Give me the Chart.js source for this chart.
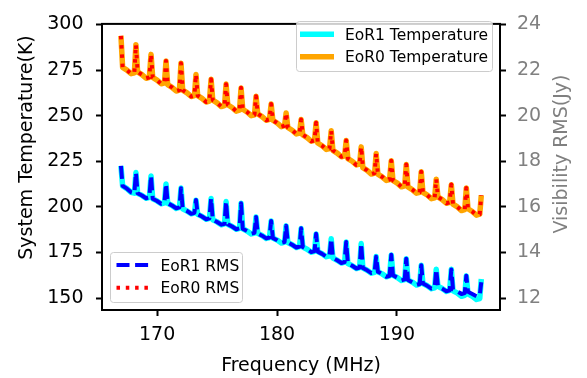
<!DOCTYPE html>
<html lang="en">
<head>
  <meta charset="utf-8">
  <title>System temperature and visibility RMS</title>
  <script src="https://cdn.jsdelivr.net/npm/chart.js"></script>
  <style>
    html, body { margin: 0; padding: 0; background: #fff; }
    #wrap { width: 587px; height: 378px; }
  </style>
</head>
<body>
  <div id="wrap"><canvas id="myChart" width="587" height="378"></canvas></div>

<script>
  // start of each coarse channel (MHz), every coarse channel begins with a spike
  const chanStartMHz = [166.98, 168.23, 169.49, 170.74, 171.99, 173.24, 174.50, 175.75,
    177.00, 178.25, 179.51, 180.76, 182.01, 183.26, 184.52, 185.77, 187.02, 188.27,
    189.53, 190.78, 192.03, 193.28, 194.54, 195.79, 197.04];
  // fine channel offsets inside a coarse channel (MHz)
  const chanOffsetMHz = [0, 0.14, 0.5, 0.85, 1.12];

  const freqTicks = [170, 180, 190];
  const tempTicks = [150, 175, 200, 225, 250, 275, 300];
  const rmsTicks = [12, 14, 16, 18, 20, 22, 24];

  // System temperature (K), one row per coarse channel
  const eor1Temp = [
    [222.5, 211.5, 210.0, 208.0, 207.5],
    [218.8, 207.5, 206.3, 204.7, 205.2],
    [217.0, 204.5, 203.3, 201.7, 202.2],
    [212.6, 202.0, 200.8, 199.2, 199.7],
    [210.3, 199.0, 197.8, 196.2, 196.7],
    [203.7, 196.0, 194.8, 193.2, 193.7],
    [204.6, 193.0, 191.8, 190.2, 190.7],
    [202.9, 190.5, 189.3, 187.7, 188.2],
    [202.0, 188.0, 186.8, 185.2, 185.7],
    [194.5, 185.5, 184.3, 182.7, 183.2],
    [192.3, 183.0, 181.8, 180.2, 180.7],
    [189.6, 180.5, 179.3, 177.7, 178.2],
    [188.2, 178.0, 176.8, 175.2, 175.7],
    [185.2, 175.5, 174.3, 172.7, 173.2],
    [182.5, 172.0, 170.8, 169.2, 169.7],
    [180.8, 169.0, 167.8, 166.2, 166.7],
    [179.9, 166.5, 165.3, 163.7, 164.2],
    [172.8, 164.5, 163.3, 161.7, 162.2],
    [173.7, 162.5, 161.3, 159.7, 160.2],
    [171.6, 160.0, 158.8, 157.2, 157.7],
    [168.0, 158.0, 156.8, 155.2, 155.7],
    [165.8, 156.5, 155.3, 153.7, 154.2],
    [165.8, 154.0, 152.8, 151.0, 151.5],
    [162.2, 152.3, 151.0, 149.3, 149.8],
    [160.5]
  ];
  const eor0Temp = [
    [293.8, 276.5, 275.0, 273.0, 273.5],
    [288.9, 274.0, 272.5, 270.5, 271.0],
    [283.6, 271.0, 269.5, 267.5, 268.0],
    [280.0, 267.0, 265.5, 263.5, 264.0],
    [278.8, 264.0, 262.5, 260.5, 261.0],
    [272.6, 261.0, 259.5, 257.5, 258.0],
    [270.0, 258.5, 257.0, 255.0, 255.5],
    [267.3, 256.0, 254.5, 252.5, 253.0],
    [265.2, 253.5, 252.0, 250.0, 250.5],
    [260.6, 251.0, 249.5, 247.5, 248.0],
    [256.4, 247.5, 246.0, 244.0, 244.5],
    [251.5, 243.5, 242.0, 240.0, 240.5],
    [247.9, 239.5, 238.0, 236.0, 236.5],
    [246.1, 235.0, 233.5, 231.5, 232.0],
    [241.7, 231.0, 229.5, 227.5, 228.0],
    [236.4, 226.5, 225.0, 223.0, 223.5],
    [232.9, 221.5, 220.0, 218.0, 218.5],
    [229.3, 218.0, 216.5, 214.5, 215.0],
    [225.3, 214.5, 213.0, 211.0, 211.5],
    [223.2, 211.0, 209.5, 207.5, 208.0],
    [219.3, 208.0, 206.5, 204.5, 205.0],
    [215.2, 205.5, 204.0, 202.0, 202.5],
    [212.2, 201.5, 200.0, 198.0, 198.5],
    [210.4, 199.0, 197.5, 195.5, 196.0],
    [206.4]
  ];

  // Visibility RMS (Jy), right axis
  const eor1Rms = [
    [17.80, 16.92, 16.80, 16.64, 16.60],
    [17.50, 16.60, 16.50, 16.38, 16.42],
    [17.36, 16.36, 16.26, 16.14, 16.18],
    [17.01, 16.16, 16.06, 15.94, 15.98],
    [16.82, 15.92, 15.82, 15.70, 15.74],
    [16.30, 15.68, 15.58, 15.46, 15.50],
    [16.37, 15.44, 15.34, 15.22, 15.26],
    [16.23, 15.24, 15.14, 15.02, 15.06],
    [16.16, 15.04, 14.94, 14.82, 14.86],
    [15.56, 14.84, 14.74, 14.62, 14.66],
    [15.38, 14.64, 14.54, 14.42, 14.46],
    [15.17, 14.44, 14.34, 14.22, 14.26],
    [15.06, 14.24, 14.14, 14.02, 14.06],
    [14.82, 14.04, 13.94, 13.82, 13.86],
    [14.60, 13.76, 13.66, 13.54, 13.58],
    [14.46, 13.52, 13.42, 13.30, 13.34],
    [14.39, 13.32, 13.22, 13.10, 13.14],
    [13.82, 13.16, 13.06, 12.94, 12.98],
    [13.90, 13.00, 12.90, 12.78, 12.82],
    [13.73, 12.80, 12.70, 12.58, 12.62],
    [13.44, 12.64, 12.54, 12.42, 12.46],
    [13.26, 12.52, 12.42, 12.30, 12.34],
    [13.26, 12.38, 12.30, 12.18, 12.22],
    [12.98, 12.28, 12.18, 12.08, 12.12],
    [12.70]
  ];
  const eor0Rms = [
    [23.50, 22.12, 22.00, 21.84, 21.88],
    [23.11, 21.92, 21.80, 21.64, 21.68],
    [22.69, 21.68, 21.56, 21.40, 21.44],
    [22.40, 21.36, 21.24, 21.08, 21.12],
    [22.30, 21.12, 21.00, 20.84, 20.88],
    [21.81, 20.88, 20.76, 20.60, 20.64],
    [21.60, 20.68, 20.56, 20.40, 20.44],
    [21.38, 20.48, 20.36, 20.20, 20.24],
    [21.22, 20.28, 20.16, 20.00, 20.04],
    [20.85, 20.08, 19.96, 19.80, 19.84],
    [20.51, 19.80, 19.68, 19.52, 19.56],
    [20.12, 19.48, 19.36, 19.20, 19.24],
    [19.83, 19.16, 19.04, 18.88, 18.92],
    [19.69, 18.80, 18.68, 18.52, 18.56],
    [19.34, 18.48, 18.36, 18.20, 18.24],
    [18.91, 18.12, 18.00, 17.84, 17.88],
    [18.63, 17.72, 17.60, 17.44, 17.48],
    [18.34, 17.44, 17.32, 17.16, 17.20],
    [18.02, 17.16, 17.04, 16.88, 16.92],
    [17.86, 16.88, 16.76, 16.60, 16.64],
    [17.54, 16.64, 16.52, 16.36, 16.40],
    [17.22, 16.44, 16.32, 16.16, 16.20],
    [16.98, 16.12, 16.00, 15.84, 15.88],
    [16.83, 15.92, 15.80, 15.64, 15.68],
    [16.51]
  ];

  var FONT = "'DejaVu Sans', sans-serif";
  Chart.defaults.font.family = FONT;

  function toPoints(series) {
    var pts = [];
    series.forEach(function (chan, c) {
      chan.forEach(function (v, i) {
        pts.push({ x: chanStartMHz[c] + chanOffsetMHz[i], y: v });
      });
    });
    return pts;
  }

  function fixedTicks(list) {
    return function (scale) {
      scale.ticks = list.map(function (v) { return { value: v }; });
    };
  }

  // legend boxes, like the two matplotlib legends
  var legendTop = {
    box: [296.5, 21.5, 196, 50], lineX: [300, 334], textX: 345, rowY: [34.3, 56.7],
    items: [
      { label: 'EoR1 Temperature', color: '#00ffff', width: 5.5, dash: [] },
      { label: 'EoR0 Temperature', color: '#ffa500', width: 5.5, dash: [] }
    ]
  };
  var legendBottom = {
    box: [110.5, 252.5, 132, 50], lineX: [116.5, 150.5], textX: 160.5, rowY: [265, 287.7],
    items: [
      { label: 'EoR1 RMS', color: '#0000ff', width: 4, dash: [13, 5.6] },
      { label: 'EoR0 RMS', color: '#ff0000', width: 4, dash: [3.5, 5.8] }
    ]
  };

  function drawLegend(ctx, lg) {
    var b = lg.box;
    ctx.save();
    ctx.beginPath();
    ctx.roundRect(b[0], b[1], b[2], b[3], 3);
    ctx.fillStyle = 'rgba(255,255,255,0.8)';
    ctx.fill();
    ctx.strokeStyle = '#cccccc';
    ctx.lineWidth = 1;
    ctx.stroke();
    lg.items.forEach(function (it, i) {
      var y = lg.rowY[i];
      ctx.beginPath();
      ctx.setLineDash(it.dash);
      ctx.lineCap = 'butt';
      ctx.strokeStyle = it.color;
      ctx.lineWidth = it.width;
      ctx.moveTo(lg.lineX[0], y);
      ctx.lineTo(lg.lineX[1], y);
      ctx.stroke();
      ctx.setLineDash([]);
      ctx.fillStyle = '#000';
      ctx.font = '15.5px ' + FONT;
      ctx.textAlign = 'left';
      ctx.textBaseline = 'alphabetic';
      ctx.fillText(it.label, lg.textX, y + 5.7);
    });
    ctx.restore();
  }

  function rotatedText(ctx, text, x, y, color) {
    ctx.save();
    ctx.translate(x, y);
    ctx.rotate(-Math.PI / 2);
    ctx.fillStyle = color;
    ctx.font = '19px ' + FONT;
    ctx.textAlign = 'center';
    ctx.textBaseline = 'alphabetic';
    ctx.fillText(text, 0, 0);
    ctx.restore();
  }

  var decorations = {
    id: 'decorations',
    afterDatasetsDraw: function (chart) {
      var ctx = chart.ctx, a = chart.chartArea;
      ctx.save();
      ctx.strokeStyle = '#000';
      ctx.lineWidth = 2;
      ctx.strokeRect(a.left, a.top, a.right - a.left, a.bottom - a.top);
      ctx.restore();
      drawLegend(ctx, legendTop);
      drawLegend(ctx, legendBottom);
    },
    afterDraw: function (chart) {
      var ctx = chart.ctx, a = chart.chartArea;
      ctx.save();
      ctx.fillStyle = '#000';
      ctx.font = '19px ' + FONT;
      ctx.textAlign = 'center';
      ctx.textBaseline = 'alphabetic';
      ctx.fillText('Frequency (MHz)', (a.left + a.right) / 2, 370.5);
      ctx.restore();
      rotatedText(ctx, 'System Temperature(K)', 32, 147.5, '#000');
      rotatedText(ctx, 'Visibility RMS(Jy)', 567, 154, '#808080');
    }
  };

  var tickGrid = { display: true, drawOnChartArea: false, drawTicks: true, tickLength: 6, tickWidth: 2, tickColor: '#000' };

  var ctx = document.getElementById('myChart').getContext('2d');
  var myChart = new Chart(ctx, {
    type: 'line',
    data: {
      datasets: [
        { label: 'EoR1 RMS', data: toPoints(eor1Rms), yAxisID: 'y2', borderColor: '#0000ff', borderWidth: 4, borderDash: [13, 5.6], order: 0 },
        { label: 'EoR0 RMS', data: toPoints(eor0Rms), yAxisID: 'y2', borderColor: '#ff0000', borderWidth: 4, borderDash: [3.5, 5.8], order: 0 },
        { label: 'EoR1 Temperature', data: toPoints(eor1Temp), yAxisID: 'y', borderColor: '#00ffff', borderWidth: 5.5, order: 1 },
        { label: 'EoR0 Temperature', data: toPoints(eor0Temp), yAxisID: 'y', borderColor: '#ffa500', borderWidth: 5.5, order: 1 }
      ]
    },
    options: {
      responsive: false,
      animation: false,
      devicePixelRatio: 1,
      layout: { padding: { top: 15, left: 0, right: 0, bottom: 0 } },
      elements: {
        point: { radius: 0 },
        line: { tension: 0, fill: false, borderJoinStyle: 'round', borderCapStyle: 'butt' }
      },
      plugins: {
        legend: { display: false },
        tooltip: { enabled: false }
      },
      scales: {
        x: {
          type: 'linear', min: 165.4, max: 198.6,
          afterBuildTicks: fixedTicks(freqTicks),
          afterFit: function (s) { s.height = 68; },
          grid: tickGrid,
          border: { display: false },
          ticks: { color: '#000', font: { size: 19 }, padding: 8, maxRotation: 0 }
        },
        y: {
          type: 'linear', position: 'left', min: 143.5, max: 300.3,
          afterBuildTicks: fixedTicks(tempTicks),
          afterFit: function (s) { s.width = 102; },
          grid: tickGrid,
          border: { display: false },
          ticks: { color: '#000', font: { size: 19 }, padding: 12.5 }
        },
        y2: {
          type: 'linear', position: 'right', min: 11.48, max: 24.024,
          afterBuildTicks: fixedTicks(rmsTicks),
          afterFit: function (s) { s.width = 87; },
          grid: tickGrid,
          border: { display: false },
          ticks: { color: '#808080', font: { size: 19 }, padding: 11 }
        }
      }
    },
    plugins: [decorations]
  });
</script>
</body>
</html>
